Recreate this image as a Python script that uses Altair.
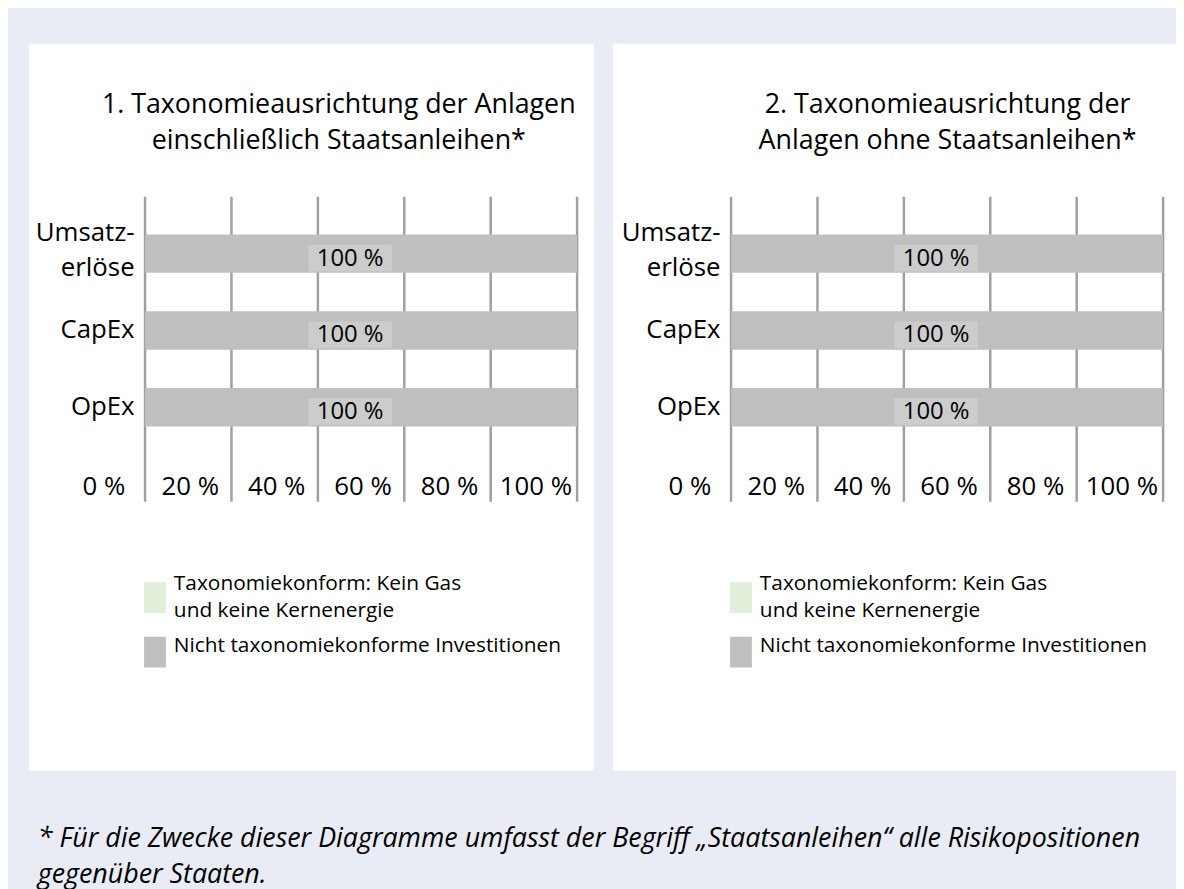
import altair as alt
import pandas as pd

# ---------------- data ----------------
categories = ["Umsatzerlöse", "CapEx", "OpEx"]
series = ["Taxonomiekonform: Kein Gas\nund keine Kernenergie",
          "Nicht taxonomiekonforme Investitionen"]
panel_titles = [["1. Taxonomieausrichtung der Anlagen", "einschließlich Staatsanleihen*"],
                ["2. Taxonomieausrichtung der", "Anlagen ohne Staatsanleihen*"]]
aligned_incl = [0, 0, 0]
other_incl = [100, 100, 100]
aligned_excl = [0, 0, 0]
other_excl = [100, 100, 100]
ticks = [0, 20, 40, 60, 80, 100]
footnote = ["* Für die Zwecke dieser Diagramme umfasst der Begriff „Staatsanleihen“ alle Risikopositionen",
            "gegenüber Staaten."]

# ---------------- style ----------------
W, H = 435, 280
FONT = "Open Sans"
GRID = "#a0a0a0"
BAR = "#bfbfbf"
GREEN = "#e2efda"
BOX = "#cccccc"
BG = "#e9ecf5"
BOXPATH = "M-1,-0.214H1V0.428H-1Z"
LEGPATH = "M-0.71,-1H0.71V1H-0.71Z"

xs = alt.Scale(domain=[0, 100])
ys = alt.Scale(domain=categories, paddingInner=0.5, paddingOuter=0.561, align=0.438)

xaxis = alt.Axis(title=None, values=ticks, labelExpr="datum.value + ' %'", domain=False,
                 ticks=False, tickSize=0, grid=False, labelFlush=False, labelOverlap=False,
                 labelBound=False, labelOffset=-42, labelBaseline="alphabetic", labelPadding=20,
                 labelFontSize=26, labelFont=FONT, labelColor="black", zindex=1)
yaxis = alt.Axis(title=None, domain=False, ticks=False, labelFontSize=26, labelFont=FONT,
                 labelColor="black", labelPadding=11, labelLineHeight=36, zindex=1,
                 labelLimit=300,
                 labelOffset={"condition": {"test": "datum.value == 'Umsatzerlöse'", "value": -21},
                              "value": 0},
                 labelExpr="datum.label == 'Umsatzerlöse' ? ['Umsatz-', 'erlöse'] : datum.label")


def panel(aligned, other, title_lines, title_dx, rect_x, rect_x2):
    rows = []
    for c, a, o in zip(categories, aligned, other):
        rows.append({"cat": c, "series": series[0], "value": a, "k": 0})
        rows.append({"cat": c, "series": series[1], "value": o, "k": 1})
    df = pd.DataFrame(rows)
    tick_df = pd.DataFrame({"tick": ticks})

    bg = alt.Chart(pd.DataFrame({"p": [0]})).mark_rect(color="white").encode(
        x=alt.value(rect_x), x2=alt.value(rect_x2), y=alt.value(-154), y2=alt.value(578))

    grid = alt.Chart(tick_df).mark_rule(color=GRID, strokeWidth=2.5).encode(
        x=alt.X("tick:Q", scale=xs, axis=xaxis),
        y=alt.value(0), y2=alt.value(H + 27))

    bars = alt.Chart(df).mark_bar().encode(
        y=alt.Y("cat:N", scale=ys, sort=categories, axis=yaxis),
        x=alt.X("value:Q", stack="zero", scale=xs, axis=xaxis),
        color=alt.Color("series:N",
                        scale=alt.Scale(domain=series, range=[GREEN, BAR]),
                        legend=alt.Legend(title=None, orient="none", legendX=-5.5, legendY=388,
                                          symbolType=LEGPATH, symbolSize=961, symbolStrokeWidth=0,
                                          symbolOpacity=1, labelFontSize=21, labelFont=FONT,
                                          labelColor="black", labelLimit=600, labelOffset=3.5,
                                          rowPadding=13, padding=0, direction="vertical",
                                          labelBaseline={"expr": "indexof(datum.value, 'Kein Gas') >= 0 ? 'line-bottom' : 'alphabetic'"},
                                          labelExpr="split(datum.label, '\\n')")),
        order=alt.Order("k:Q"))

    lab = alt.Chart(df).transform_filter(alt.datum.value > 0).transform_calculate(
        mid="datum.value / 2", txt="datum.value + ' %'")
    box = lab.mark_point(shape=BOXPATH, filled=True, color=BOX, size=84 * 84, opacity=1,
                         strokeWidth=0, xOffset=-11).encode(
        x=alt.X("mid:Q", scale=xs, axis=xaxis),
        y=alt.Y("cat:N", scale=ys, sort=categories, axis=yaxis))
    txt = lab.mark_text(fontSize=24, font=FONT, color="black", dx=-11, dy=5).encode(
        x=alt.X("mid:Q", scale=xs, axis=xaxis),
        y=alt.Y("cat:N", scale=ys, sort=categories, axis=yaxis),
        text="txt:N")

    return alt.layer(bg, grid, bars, box, txt).properties(
        width=W, height=H,
        title=alt.TitleParams(text=title_lines, fontSize=27, font=FONT, fontWeight="normal",
                              color="black", anchor="middle", frame="group", dx=title_dx,
                              offset=-111.5, lineHeight=36))


p1 = panel(aligned_incl, other_incl, panel_titles[0], -22.5, -117, 452)
p2 = panel(aligned_excl, other_excl, panel_titles[1], 0.5, -119, 448)

chart = alt.hconcat(p1, p2, spacing=19).resolve_legend(color="independent").properties(
    title=alt.TitleParams(text=footnote, orient="bottom", anchor="start", fontSize=27,
                          font=FONT, fontStyle="italic", fontWeight="normal", color="black",
                          dx=9, offset=56, lineHeight=36),
    padding={"left": 21, "top": 33, "right": 0, "bottom": 0},
).configure(background=BG, font=FONT,
            style={"guide-label": {"lineHeight": 28}}).configure_view(stroke=None)

chart.save("out.html", embed_options={"renderer": "svg", "actions": False})
